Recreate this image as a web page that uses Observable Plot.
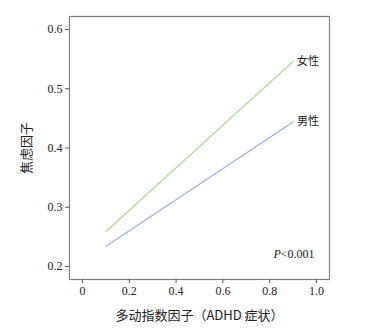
<!DOCTYPE html>
<html>
<head>
<meta charset="utf-8">
<script src="https://cdn.jsdelivr.net/npm/d3@7"></script>
<script src="https://cdn.jsdelivr.net/npm/@observablehq/plot@0.6"></script>
<style>
  html, body { margin: 0; padding: 0; background: #fff; }
  #chart svg { display: block; }
  g[aria-label="y-axis label"] text, g[aria-label="x-axis label"] text { font-family: "Noto Sans CJK SC", sans-serif; font-size: 13px; }
</style>
</head>
<body>
<div id="chart"></div>
<script>
// data
const xValues = [0.1, 0.9];
const femaleValues = [0.259, 0.546];
const maleValues = [0.234, 0.444];
const seriesNames = ["女性", "男性"];
const xTicks = [0, 0.2, 0.4, 0.6, 0.8, 1.0];
const yTicks = [0.2, 0.3, 0.4, 0.5, 0.6];
const pText = "P<0.001";

const rows = [];
xValues.forEach((x, i) => {
  rows.push({sex: seriesNames[0], x, y: femaleValues[i]});
  rows.push({sex: seriesNames[1], x, y: maleValues[i]});
});
const ends = rows.filter(d => d.x === xValues[xValues.length - 1]);
const colors = {"女性": "#a9d891", "男性": "#9aaee0"};

const chart = Plot.plot({
  width: 367,
  height: 333,
  marginLeft: 69,
  marginRight: 38,
  marginTop: 16,
  marginBottom: 54,
  style: {fontFamily: "'Liberation Serif', serif", fontSize: "12px", color: "#222", background: "#fff"},
  x: {domain: [-0.056, 1.056]},
  y: {domain: [0.178, 0.622]},
  marks: [
    Plot.frame({stroke: "#808080", strokeWidth: 1.2}),
    Plot.axisX({ticks: xTicks, tickSize: 4, tickPadding: 3, stroke: "#555",
      tickFormat: d => d === 0 ? "0" : d.toFixed(1),
      label: "多动指数因子（ADHD 症状）", labelAnchor: "center", labelArrow: "none", labelOffset: 40}),
    Plot.axisY({ticks: yTicks, tickSize: 4, tickPadding: 3, stroke: "#555",
      tickFormat: d => d.toFixed(1),
      label: "焦虑因子", labelAnchor: "center", labelArrow: "none", labelOffset: 48}),
    Plot.line(rows, {x: "x", y: "y", z: "sex", stroke: d => colors[d.sex], strokeWidth: 1.1}),
    Plot.text(ends, {x: "x", y: "y", text: "sex", textAnchor: "start", dx: 4,
      fontFamily: "'Noto Sans CJK SC', sans-serif", fontSize: 11, fill: "#222"}),
    Plot.text([pText], {frameAnchor: "bottom-right", text: d => d, dx: -15, dy: -22,
      fontSize: 12, fill: "#222", className: "ptext"})
  ]
});
document.getElementById("chart").appendChild(chart);

// italicize the P
const t = chart.querySelector(".ptext text");
if (t) {
  const s = t.textContent;
  t.textContent = "";
  const ns = "http://www.w3.org/2000/svg";
  const a = document.createElementNS(ns, "tspan");
  a.setAttribute("font-style", "italic");
  a.textContent = s.slice(0, 1);
  const b = document.createElementNS(ns, "tspan");
  b.textContent = s.slice(1);
  t.appendChild(a); t.appendChild(b);
}
</script>
</body>
</html>
